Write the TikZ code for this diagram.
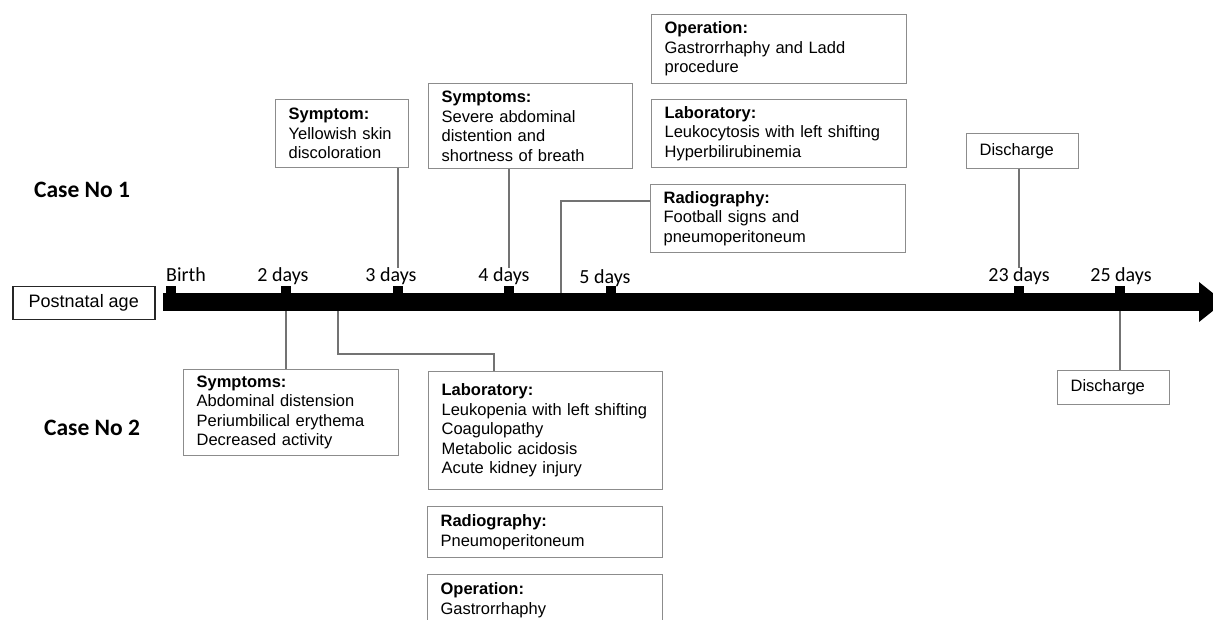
\documentclass[tikz,border=0pt]{standalone}
\usepackage{fontspec}
\setmainfont{Liberation Sans}
\newfontfamily\calibri{Carlito}
\usetikzlibrary{positioning,calc}

\begin{document}
\begin{tikzpicture}[x=1pt,y=-1pt,
   box/.style={draw=black!45,line width=1.2pt,anchor=north west,align=left,
     inner xsep=13pt,inner ysep=0pt,font=\fontsize{16.5}{19.5}\selectfont},
   conn/.style={draw=black!55,line width=1.2pt},
   tk/.style={fill=black,minimum width=10pt,minimum height=7pt,inner sep=0pt,anchor=south},
   daylab/.style={font=\calibri\fontsize{20}{20}\selectfont,anchor=base,inner sep=0pt},
   caselab/.style={font=\calibri\bfseries\fontsize{23.5}{24}\selectfont,anchor=base west,inner sep=0pt}]
  \clip (0,0) rectangle (1213,620);
  \fill[white] (0,0) rectangle (1213,620);
  % time axis
  \fill (163,293) rectangle (1200,311);
  \fill (1199,282) -- (1224,302) -- (1199,322) -- cycle;
  \coordinate (barB) at (0,311);
  \node[draw=black!85,line width=1.5pt,minimum width=142pt,minimum height=33pt,inner sep=0pt,
        font=\fontsize{18}{18}\selectfont,anchor=north west] (age) at (12,286) {Postnatal age};
  \node[tk] (t0) at (171,293) {};
  \node[tk] (t2) at (286,293) {};
  \node[tk] (t3) at (398,293) {};
  \node[tk] (t4) at (509,293) {};
  \node[tk] (t5) at (611,293) {};
  \node[tk] (t23) at (1019,293) {};
  \node[tk] (t25) at (1120,293) {};
  \node[daylab,anchor=base west] (l0) at (166,282) {Birth};
  \node[daylab] (l2) at (283,282) {2 days};
  \node[daylab] (l3) at (391,282) {3 days};
  \node[daylab] (l4) at (504,282) {4 days};
  \node[daylab] (l5) at (605,284) {5 days};
  \node[daylab] (l23) at (1019,282) {23 days};
  \node[daylab] (l25) at (1121,282) {25 days};
  \node[caselab] (c1) at (34,198) {Case No 1};
  \node[caselab] (c2) at (44,435) {Case No 2};
  % case 1
  \node[box,text width=107pt,minimum height=68pt] (sym1) at (275,99)
    {\textbf{Symptom:}\\Yellowish skin\\discoloration};
  \node[box,text width=178pt,minimum height=85pt] (sym1b) at (428,83)
    {\textbf{Symptoms:}\\Severe abdominal\\distention and\\shortness of breath};
  \node[box,text width=229pt,minimum height=69pt] (op1) at (651,14)
    {\textbf{Operation:}\\Gastrorrhaphy and Ladd\\procedure};
  \node[box,text width=229pt,minimum height=68pt] (lab1) at (651,99)
    {\textbf{Laboratory:}\\Leukocytosis with left shifting\\Hyperbilirubinemia};
  \node[box,text width=229pt,minimum height=68pt] (rad1) at (650,184)
    {\textbf{Radiography:}\\Football signs and\\pneumoperitoneum};
  \node[box,text width=86pt,minimum height=35pt] (dis1) at (966,133) {Discharge};
  \coordinate (r1) at (561,293);
  \draw[conn] (sym1.south -| t3) -- (l3.north -| t3);
  \draw[conn] (sym1b.south -| t4) -- (l4.north -| t4);
  \draw[conn] ([yshift=-17pt]rad1.north west) -| (r1);
  \draw[conn] (dis1.south -| t23) -- (l23.north -| t23);
  % case 2
  \node[box,text width=189pt,minimum height=86pt] (sym2) at (183,369)
    {\textbf{Symptoms:}\\Abdominal distension\\Periumbilical erythema\\Decreased activity};
  \node[box,text width=208pt,minimum height=118pt] (lab2) at (428,371)
    {\textbf{Laboratory:}\\Leukopenia with left shifting\\Coagulopathy\\Metabolic acidosis\\Acute kidney injury\\[4pt]};
  \node[box,text width=209pt,minimum height=51pt] (rad2) at (427,506)
    {\textbf{Radiography:}\\Pneumoperitoneum};
  \node[box,text width=209pt,minimum height=51pt] (op2) at (427,574)
    {\textbf{Operation:}\\Gastrorrhaphy};
  \node[box,text width=86pt,minimum height=34pt] (dis2) at (1057,370) {Discharge};
  \coordinate (k2) at (338,311);
  \draw[conn] (t2 |- barB) -- (t2 |- sym2.north);
  \draw[conn] (k2) -- ++(0,43) -| ([xshift=66pt]lab2.north west);
  \draw[conn] (t25 |- barB) -- (t25 |- dis2.north);
\end{tikzpicture}
\end{document}
